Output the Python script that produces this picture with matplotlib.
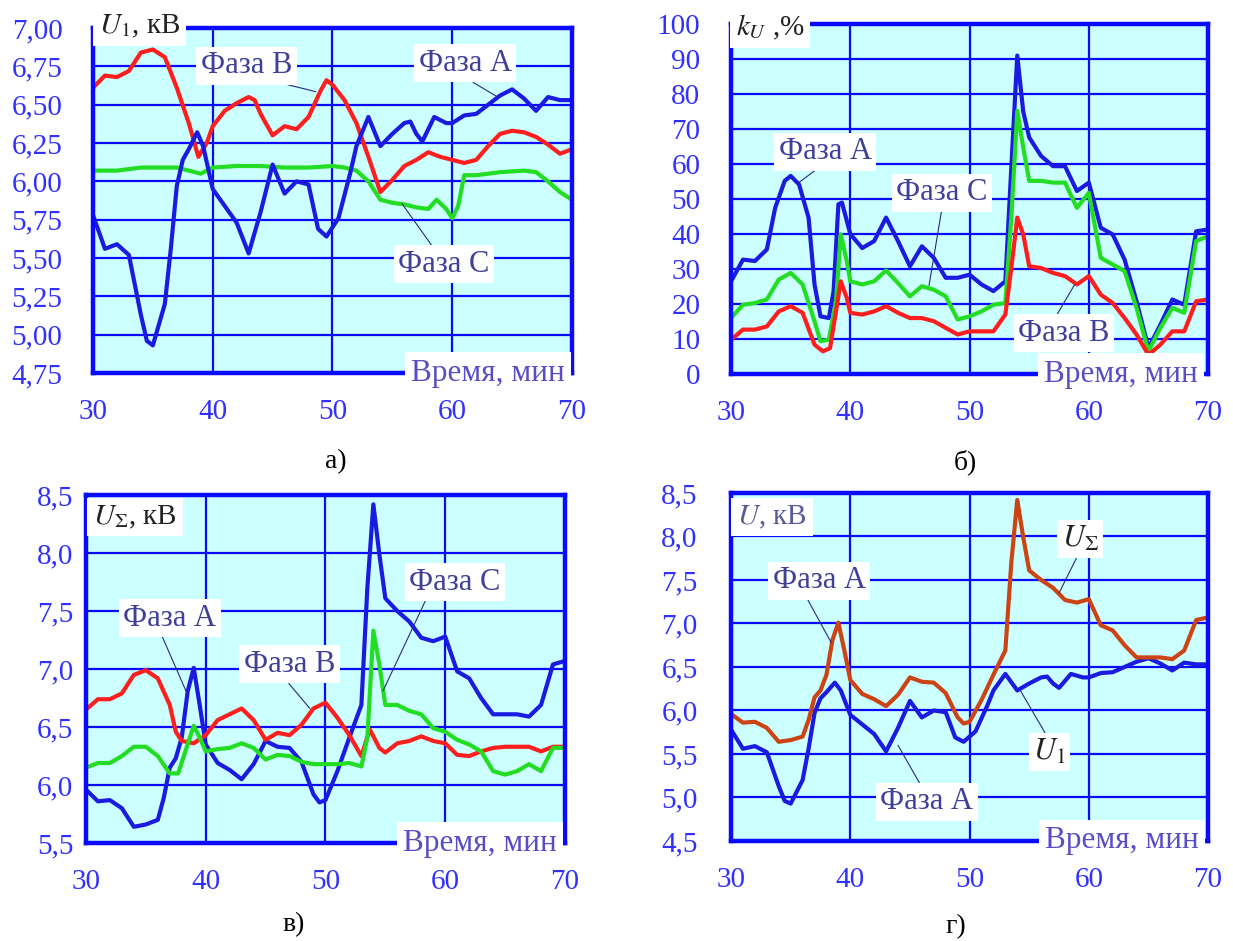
import matplotlib
matplotlib.use('Agg')
import matplotlib.pyplot as plt
from matplotlib.ticker import FuncFormatter

plt.rcParams['font.family'] = ['Liberation Serif', 'DejaVu Serif']
plt.rcParams['mathtext.fontset'] = 'stix'

# а) U1, кВ
t_a_A = [30, 31, 32, 33, 34, 34.5, 35, 36, 36.5, 37, 37.5, 38, 38.7, 39.2, 40, 41, 42, 43, 44, 45,
         46, 47, 48, 48.8, 49.5, 50.5, 51.5, 52, 53, 54, 55, 56, 56.5, 57, 57.5, 58.5, 59.5, 60, 61, 62,
         63, 64, 65, 66, 67, 68, 69, 70]
u1_A = [5.78, 5.56, 5.59, 5.52, 5.13, 4.96, 4.93, 5.20, 5.56, 5.97, 6.14, 6.21, 6.32, 6.23, 5.95, 5.84, 5.73, 5.53, 5.80, 6.11,
        5.92, 6.00, 5.98, 5.69, 5.64, 5.76, 6.06, 6.23, 6.42, 6.23, 6.31, 6.38, 6.39, 6.31, 6.26, 6.42, 6.38, 6.38, 6.43, 6.44,
        6.50, 6.56, 6.60, 6.54, 6.46, 6.55, 6.53, 6.53]
t_a_B = [30, 31, 32, 33, 34, 35, 36, 37, 38, 38.8, 39.5, 40, 41, 42, 43, 43.5, 44, 45, 46, 47,
         48, 49, 49.5, 50, 51, 52, 53, 54, 55, 56, 57, 58, 59, 60, 61, 62, 63, 64, 65, 66,
         67, 68, 69, 70]
u1_B = [6.61, 6.69, 6.68, 6.72, 6.84, 6.86, 6.81, 6.61, 6.38, 6.16, 6.25, 6.36, 6.46, 6.51, 6.55, 6.53, 6.44, 6.30, 6.36, 6.34,
        6.42, 6.59, 6.66, 6.63, 6.53, 6.38, 6.16, 5.93, 6.01, 6.10, 6.14, 6.19, 6.16, 6.14, 6.12, 6.14, 6.23, 6.31, 6.33, 6.32,
        6.29, 6.24, 6.18, 6.21]
t_a_C = [30, 32, 34, 36, 37, 38, 39, 40, 42, 44, 46, 48, 50, 51, 52, 53, 54, 55, 56, 57,
         58, 58.7, 59.5, 60, 60.5, 61, 62, 64, 66, 67, 68, 69, 70]
u1_C = [6.07, 6.07, 6.09, 6.09, 6.09, 6.07, 6.05, 6.09, 6.10, 6.10, 6.09, 6.09, 6.10, 6.09, 6.07, 6.00, 5.88, 5.86, 5.85, 5.83,
        5.82, 5.88, 5.82, 5.76, 5.84, 6.04, 6.04, 6.06, 6.07, 6.06, 6.00, 5.93, 5.88]

# б) kU, %
t_b_A = [30, 31, 32, 33, 33.7, 34.5, 35, 35.7, 36.5, 37, 37.5, 38.2, 38.6, 39, 39.3, 40, 41, 42, 43, 44,
         45, 46, 47, 48, 49, 50, 51, 52, 53, 53.5, 54, 54.5, 55, 56, 57, 58, 59, 60, 61, 62,
         63, 64, 65, 66, 67, 68, 69, 70]
k_A = [26.5, 32.7, 32.3, 35.6, 47.5, 55.2, 56.6, 54.2, 44.7, 25.6, 16.5, 16.0, 23.7, 48.5, 49, 40, 36, 38, 44.7, 38,
       30.8, 36.5, 33.2, 27.5, 27.5, 28.4, 25.6, 23.7, 26.5, 59, 91, 75, 67.6, 62.3, 59.4, 59.4, 52.3, 54.7, 41.8, 39.9,
       32.7, 20.8, 7.4, 14.1, 21.3, 19.8, 40.8, 41.3]
t_b_C = [30, 31, 32, 33, 34, 35, 36, 37, 37.5, 38.2, 38.8, 39.2, 39.7, 40, 41, 42, 43, 44, 45, 46,
         47, 48, 49, 50, 51, 52, 53, 53.5, 54, 54.5, 55, 56, 57, 58, 59, 60, 61, 62, 63, 64,
         65, 66, 67, 68, 69, 70]
k_C = [16, 19.8, 20.3, 21.3, 27, 28.9, 25.6, 15.1, 9.4, 9.8, 20.8, 39.9, 32.3, 26.5, 25.6, 26.5, 29.6, 26, 22.2, 25.1,
       24.1, 22.2, 15.6, 16.5, 17.9, 19.8, 20.3, 44.7, 75.2, 64.7, 55.2, 55.2, 54.7, 54.7, 47.5, 51.8, 33.2, 31.3, 29.4, 18.9,
       6.5, 13.2, 18.9, 17.5, 38, 39.4]
t_b_B = [30, 31, 32, 33, 34, 35, 36, 37, 37.7, 38.3, 38.8, 39.2, 39.7, 40, 41, 42, 43, 44, 45, 46,
         47, 48, 49, 50, 51, 52, 53, 53.5, 54, 54.5, 55, 56, 57, 58, 59, 60, 61, 62, 63, 64,
         65, 66, 67, 68, 69, 70]
k_B = [9.8, 12.7, 12.7, 13.6, 17.9, 19.4, 17.5, 8.4, 6.5, 7.4, 17.9, 26.5, 21.8, 17.5, 17, 17.9, 19.4, 17.5, 16, 16,
       15.1, 13.2, 11.3, 12.2, 12.2, 12.2, 17, 30.3, 44.7, 39.9, 30.8, 30.3, 28.9, 28, 25.6, 28, 22.7, 20.3, 16, 11.3,
       5.5, 8.4, 12.2, 12.2, 20.8, 21.3]

# в) U_sum, кВ
t_c_A = [30, 31, 32, 33, 34, 35, 36, 36.5, 37, 37.5, 38, 38.5, 39, 39.5, 40, 41, 42, 43, 44, 45,
         46, 47, 48, 49, 49.5, 50, 51, 52, 53, 53.5, 54, 54.5, 55, 56, 57, 58, 59, 60, 61, 62,
         63, 64, 65, 66, 67, 68, 69, 70]
us_A = [5.96, 5.86, 5.87, 5.80, 5.64, 5.66, 5.70, 5.89, 6.15, 6.23, 6.41, 6.81, 7.01, 6.69, 6.35, 6.19, 6.13, 6.05, 6.18, 6.38,
        6.33, 6.32, 6.20, 5.92, 5.85, 5.87, 6.12, 6.41, 6.69, 7.70, 8.42, 7.99, 7.61, 7.50, 7.41, 7.27, 7.24, 7.28, 6.98, 6.92,
        6.75, 6.61, 6.61, 6.61, 6.59, 6.69, 7.04, 7.07]
t_c_B = [30, 31, 32, 33, 34, 35, 36, 37, 37.5, 38, 39, 40, 41, 42, 43, 44, 45, 46, 47, 48,
         49, 50, 51, 52, 53, 53.7, 54.5, 55, 56, 57, 58, 59, 60, 61, 62, 63, 64, 65, 66, 67,
         68, 69, 70]
us_B = [6.65, 6.74, 6.74, 6.79, 6.95, 6.99, 6.92, 6.69, 6.46, 6.38, 6.36, 6.43, 6.56, 6.61, 6.66, 6.56, 6.39, 6.45, 6.43, 6.52,
        6.66, 6.71, 6.58, 6.43, 6.25, 6.48, 6.32, 6.28, 6.36, 6.38, 6.42, 6.38, 6.36, 6.26, 6.25, 6.29, 6.32, 6.33, 6.33, 6.33,
        6.29, 6.33, 6.33]
t_c_C = [30, 31, 32, 33, 34, 35, 36, 37, 37.7, 38.3, 39, 39.5, 40, 41, 42, 43, 44, 45, 46, 47,
         48, 49, 50, 51, 52, 53, 53.5, 54, 54.5, 55, 56, 57, 58, 59, 60, 61, 62, 63, 64, 65,
         66, 67, 68, 69, 70]
us_C = [6.15, 6.19, 6.19, 6.25, 6.33, 6.33, 6.25, 6.10, 6.10, 6.29, 6.51, 6.41, 6.29, 6.31, 6.32, 6.36, 6.32, 6.22, 6.26, 6.25,
        6.20, 6.18, 6.18, 6.18, 6.19, 6.16, 6.41, 7.33, 7.04, 6.69, 6.69, 6.64, 6.61, 6.49, 6.46, 6.39, 6.35, 6.29, 6.12, 6.09,
        6.12, 6.18, 6.12, 6.32, 6.32]

x_ticks = [30, 40, 50, 60, 70]
y_ticks_a = [4.75, 5.0, 5.25, 5.5, 5.75, 6.0, 6.25, 6.5, 6.75, 7.0]
y_ticks_b = [0, 10, 20, 30, 40, 50, 60, 70, 80, 90, 100]
y_ticks_c = [5.5, 6.0, 6.5, 7.0, 7.5, 8.0, 8.5]
y_ticks_d = [4.5, 5.0, 5.5, 6.0, 6.5, 7.0, 7.5, 8.0, 8.5]

blue = '#1a1ae0'
red = '#ff1e1e'
green = '#22dd22'
orange = '#cc4414'
grid_c = '#0a0aff'
tick_c = '#3030ff'
txt_c = '#40409a'
lead_c = '#2a2a80'
time_c = '#5a4cc4'

fig = plt.figure(figsize=(12.33, 9.41), dpi=100)


def make_ax(rect, yticks, fmt, ypad):
    ax = fig.add_axes(rect)
    ax.set_facecolor('#ccffff')
    ax.set_xlim(30, 70)
    ax.set_ylim(yticks[0], yticks[-1])
    ax.set_xticks(x_ticks)
    ax.set_yticks(yticks)
    ax.yaxis.set_major_formatter(FuncFormatter(lambda v, p: fmt.format(v).replace('.', ',')))
    ax.tick_params(length=0, labelsize=21, labelcolor=tick_c)
    ax.tick_params(axis='y', pad=ypad)
    ax.tick_params(axis='x', pad=19)
    ax.grid(True, color=grid_c, lw=1.6)
    ax.set_axisbelow(True)
    for s in ax.spines.values():
        s.set_color(grid_c)
        s.set_linewidth(3.2)
    return ax


def curve(ax, t, v, c):
    ax.plot(t, v, color=c, lw=3.0, solid_joinstyle='round', solid_capstyle='round')


def note(ax, txt, xytext, xy, relpos, color=txt_c):
    ax.annotate(txt, xy=xy, xytext=xytext, ha='center', va='center', fontsize=22, color=color,
                bbox=dict(boxstyle='square,pad=0.15', fc='white', ec='none'),
                arrowprops=dict(arrowstyle='-', color=lead_c, lw=0.8, relpos=relpos,
                                shrinkA=0, shrinkB=0))


def head(ax, txt, x, y, color='#222222'):
    ax.text(x, y, txt, transform=ax.transAxes, ha='left', va='center', fontsize=21, color=color,
            zorder=6, clip_on=False, bbox=dict(boxstyle='square,pad=0.2', fc='white', ec='none'))


def time_label(ax, x, y):
    ax.text(x, y, 'Время, мин', transform=ax.transAxes, ha='right', va='center', fontsize=22.5,
            color=time_c, zorder=6, clip_on=False,
            bbox=dict(boxstyle='square,pad=0.2', fc='white', ec='none'))


# а)
ax = make_ax([0.0754, 0.6036, 0.3885, 0.3666], y_ticks_a, '{:.2f}', 22)
curve(ax, t_a_C, u1_C, green)
curve(ax, t_a_B, u1_B, red)
curve(ax, t_a_A, u1_A, blue)
note(ax, 'Фаза В', (42.8, 6.755), (48.6, 6.585), (0.75, 0))
note(ax, 'Фаза А', (61.1, 6.77), (63.8, 6.55), (0.5, 0))
note(ax, 'Фаза С', (59.3, 5.46), (55.8, 5.855), (0.4, 1))
head(ax, '$U_1$, кВ', 0.012, 1.005)
time_label(ax, 0.985, 0.0)

# б)
ax = make_ax([0.5929, 0.6025, 0.3869, 0.3719], y_ticks_b, '{:.0f}', 22)
curve(ax, t_b_A, k_A, blue)
curve(ax, t_b_C, k_C, green)
curve(ax, t_b_B, k_B, red)
note(ax, 'Фаза А', (37.9, 63.5), (35.6, 54.5), (0.45, 0))
note(ax, 'Фаза С', (47.7, 51.8), (46.6, 25.3), (0.5, 0))
note(ax, 'Фаза В', (57.9, 11.7), (58.8, 25.5), (0.4, 1))
head(ax, '$k_U$ ,%', 0.01, 0.99)
time_label(ax, 0.979, 0.0)

# в)
ax = make_ax([0.0697, 0.1041, 0.3885, 0.3698], y_ticks_c, '{:.1f}', 9)
curve(ax, t_c_A, us_A, blue)
curve(ax, t_c_B, us_B, red)
curve(ax, t_c_C, us_C, green)
note(ax, 'Фаза А', (37.0, 7.44), (38.4, 6.80), (0.4, 0))
note(ax, 'Фаза В', (47.0, 7.04), (48.7, 6.66), (0.45, 0))
note(ax, 'Фаза С', (60.8, 7.75), (54.8, 6.81), (0.2, 0))
head(ax, '$U_\\Sigma$, кВ', 0.015, 0.937)
time_label(ax, 0.983, 0.0)

# г)
ax = make_ax([0.5929, 0.1063, 0.3869, 0.3698], y_ticks_d, '{:.1f}', 24)
curve(ax, t_a_A, u1_A, blue)
curve(ax, t_c_A, us_A, orange)
note(ax, 'Фаза А', (37.4, 7.49), (38.4, 6.78), (0.35, 0))
note(ax, '$U_\\Sigma$', (59.3, 7.97), (57.5, 7.35), (0.45, 0), color='#222222')
note(ax, '$U_1$', (56.7, 5.52), (54.3, 6.22), (0.45, 1), color='#222222')
note(ax, 'Фаза А', (46.4, 4.95), (44.0, 5.60), (0.45, 1))
head(ax, '$U$, кВ', 0.013, 0.931, color='#5a5a9a')
time_label(ax, 0.98, 0.0)

for x, y, s in [(0.2725, 0.509, 'а)'), (0.783, 0.509, 'б)'), (0.238, 0.017, 'в)'), (0.775, 0.015, 'г)')]:
    fig.text(x, y, s, fontsize=20, ha='center', va='center', color='black')

fig.savefig('out.png', dpi=100)
